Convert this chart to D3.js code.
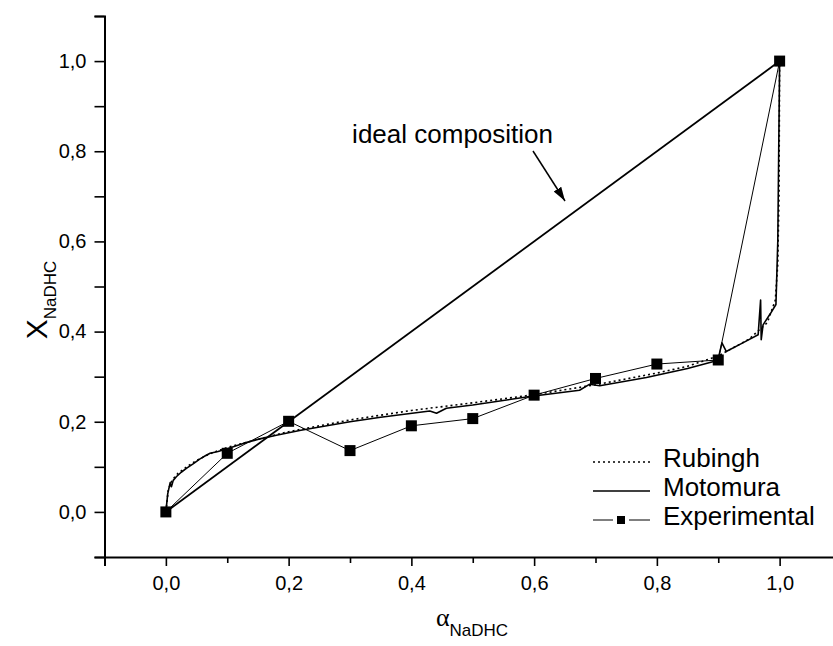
<!DOCTYPE html>
<html>
<head>
<meta charset="utf-8">
<script src="https://cdn.jsdelivr.net/npm/d3@7"></script>
<style>
  html, body { margin: 0; padding: 0; background: #fff; }
  svg { display: block; font-family: "Liberation Sans", Arial, sans-serif; }
</style>
</head>
<body>
<svg id="chart" width="833" height="646"></svg>
<script>
// experimental points
const expAlpha = [0.0, 0.1, 0.2, 0.3, 0.4, 0.5, 0.6, 0.7, 0.8, 0.9, 1.0];
const expX     = [0.0, 0.13, 0.201, 0.136, 0.191, 0.207, 0.259, 0.296, 0.328, 0.337, 1.0];

// Motomura model curve
const motoAlpha = [0, 0.003, 0.007, 0.009, 0.012, 0.017, 0.025, 0.034, 0.045, 0.055, 0.065, 0.072, 0.085, 0.1, 0.126, 0.153, 0.18, 0.22, 0.3, 0.35, 0.43, 0.441, 0.457, 0.5, 0.593, 0.674, 0.69, 0.707, 0.783, 0.85, 0.891, 0.9, 0.906, 0.913, 0.94, 0.965, 0.969, 0.97, 0.973, 0.985, 0.994, 0.997, 1.0];
const motoX     = [0, 0.04, 0.065, 0.056, 0.07, 0.078, 0.088, 0.097, 0.107, 0.117, 0.125, 0.13, 0.134, 0.14, 0.152, 0.162, 0.17, 0.181, 0.2, 0.21, 0.224, 0.219, 0.23, 0.237, 0.256, 0.27, 0.283, 0.28, 0.298, 0.318, 0.333, 0.34, 0.375, 0.356, 0.375, 0.393, 0.47, 0.382, 0.415, 0.44, 0.46, 0.6, 1.0];

// Rubingh model curve
const rubAlpha = [0, 0.004, 0.01, 0.02, 0.035, 0.05, 0.07, 0.1, 0.15, 0.2, 0.3, 0.4, 0.5, 0.6, 0.7, 0.8, 0.85, 0.9, 0.95, 0.98, 0.993, 0.997, 0.999, 1.0];
const rubX     = [0, 0.05, 0.07, 0.086, 0.101, 0.114, 0.128, 0.143, 0.161, 0.178, 0.204, 0.225, 0.242, 0.26, 0.282, 0.308, 0.323, 0.346, 0.383, 0.42, 0.47, 0.55, 0.7, 1.0];

// ideal composition X = alpha
const idealAlpha = [0, 1];
const idealX = [0, 1];

const tickVals = [0, 0.2, 0.4, 0.6, 0.8, 1.0];
const minorVals = [-0.1, 0.1, 0.3, 0.5, 0.7, 0.9, 1.1];

const svg = d3.select('#chart');
const x = d3.scaleLinear().domain([-0.1, 1.1]).range([104.5, 841]);
const y = d3.scaleLinear().domain([-0.1, 1.1]).range([557, 16]);
const fmt = d => d.toFixed(1).replace('.', ',');

const line = d3.line().x(d => x(d[0])).y(d => y(d[1]));
const pairs = (a, b) => a.map((v, i) => [v, b[i]]);

const plot = svg.append('g');

// ideal composition line
plot.append('path').attr('d', line(pairs(idealAlpha, idealX)))
  .attr('fill', 'none').attr('stroke', '#000').attr('stroke-width', 1.8);

// Rubingh dotted
plot.append('path').attr('d', line(pairs(rubAlpha, rubX)))
  .attr('fill', 'none').attr('stroke', '#000').attr('stroke-width', 1.6)
  .attr('stroke-dasharray', '2,3');

// Motomura solid
plot.append('path').attr('d', line(pairs(motoAlpha, motoX)))
  .attr('fill', 'none').attr('stroke', '#000').attr('stroke-width', 1.6)
  .attr('stroke-linejoin', 'round');

// experimental
const expPts = pairs(expAlpha, expX);
plot.append('path').attr('d', line(expPts))
  .attr('fill', 'none').attr('stroke', '#000').attr('stroke-width', 1);
const SQ = 11;
plot.selectAll('rect.exp').data(expPts).enter().append('rect')
  .attr('class', 'exp')
  .attr('x', d => x(d[0]) - SQ / 2).attr('y', d => y(d[1]) - SQ / 2)
  .attr('width', SQ).attr('height', SQ).attr('fill', '#000');

// axes
svg.append('g').attr('transform', `translate(0,${y(-0.1)})`)
  .call(d3.axisBottom(x).tickValues(tickVals).tickFormat(fmt).tickSize(9).tickPadding(10));
svg.append('g').attr('transform', `translate(0,${y(-0.1)})`)
  .call(d3.axisBottom(x).tickValues(minorVals).tickFormat('').tickSize(6))
  .select('.domain').remove();

svg.append('g').attr('transform', `translate(${x(-0.1)},0)`)
  .call(d3.axisLeft(y).tickValues(tickVals).tickFormat(fmt).tickSize(10).tickPadding(8));
svg.append('g').attr('transform', `translate(${x(-0.1)},0)`)
  .call(d3.axisLeft(y).tickValues(minorVals).tickFormat('').tickSize(10))
  .select('.domain').remove();

svg.selectAll('.domain').attr('stroke-width', 2);
svg.selectAll('.tick line').attr('stroke-width', 1.6);
svg.selectAll('.tick text').attr('font-size', 20).attr('font-family', '"Liberation Sans", Arial, sans-serif').attr('fill', '#000');

// axis titles
const xt = svg.append('text').attr('x', 472).attr('y', 626).attr('text-anchor', 'middle');
xt.append('tspan').attr('font-family', '"Liberation Serif", "Times New Roman", serif').attr('font-size', 26).text('α');
xt.append('tspan').attr('font-size', 17).attr('dy', 10).text('NaDHC');

const yt = svg.append('text').attr('transform', 'translate(47,300) rotate(-90)').attr('text-anchor', 'middle');
yt.append('tspan').attr('font-size', 30).text('X');
yt.append('tspan').attr('font-size', 17).attr('dy', 9).text('NaDHC');

// annotation
svg.append('text').attr('x', 553).attr('y', 143).attr('text-anchor', 'end')
  .attr('font-size', 26).text('ideal composition');
svg.append('defs').append('marker').attr('id', 'arrow').attr('viewBox', '0 -5 10 10')
  .attr('refX', 10).attr('refY', 0).attr('markerWidth', 14).attr('markerHeight', 14)
  .attr('markerUnits', 'userSpaceOnUse').attr('orient', 'auto')
  .append('path').attr('d', 'M0,-3.2L10,0L0,3.2Z').attr('fill', '#000');
svg.append('line').attr('x1', 533).attr('y1', 151).attr('x2', 565).attr('y2', 201)
  .attr('stroke', '#000').attr('stroke-width', 1.5).attr('marker-end', 'url(#arrow)');

// legend
const legend = [
  { name: 'Rubingh', dash: '2,3', marker: false },
  { name: 'Motomura', dash: null, marker: false },
  { name: 'Experimental', dash: null, marker: true }
];
const lg = svg.append('g').attr('transform', 'translate(593,462)');
legend.forEach((l, i) => {
  const row = lg.append('g').attr('transform', `translate(0,${i * 29})`);
  if (l.marker) {
    row.append('line').attr('x1', 0).attr('x2', 20).attr('stroke', '#000').attr('stroke-width', 1);
    row.append('line').attr('x1', 36).attr('x2', 57).attr('stroke', '#000').attr('stroke-width', 1);
    row.append('rect').attr('x', 24).attr('y', -4).attr('width', 8).attr('height', 8).attr('fill', '#000');
  } else {
    row.append('line').attr('x1', 0).attr('x2', 57).attr('stroke', '#000')
      .attr('stroke-width', 1.6).attr('stroke-dasharray', l.dash);
  }
  row.append('text').attr('x', 70).attr('y', 5).attr('font-size', 26).text(l.name);
});
</script>
</body>
</html>
